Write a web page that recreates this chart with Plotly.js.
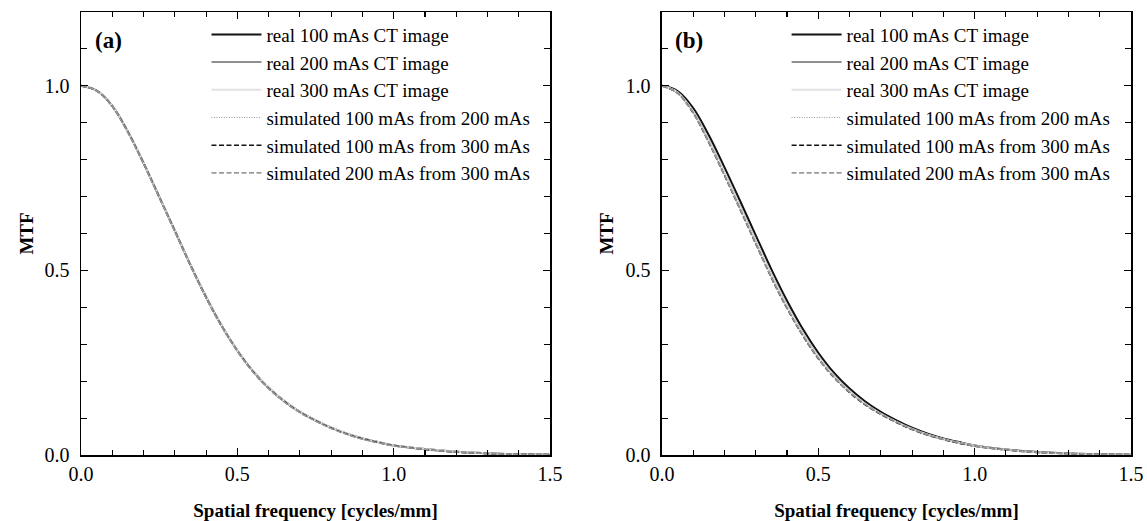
<!DOCTYPE html>
<html>
<head>
<meta charset="utf-8">
<script src="https://cdn.plot.ly/plotly-3.0.1.min.js"></script>
<style>html,body{margin:0;padding:0;background:#fff;}#chart{width:1147px;height:521px;}</style>
</head>
<body>
<div id="chart"></div>
<script>
// Spatial frequency grid [cycles/mm]
const freq = [0, 0.05, 0.1, 0.15, 0.2, 0.25, 0.3, 0.35, 0.4, 0.45, 0.5, 0.55, 0.6, 0.65, 0.7, 0.75, 0.8, 0.85, 0.9, 0.95, 1.0, 1.1, 1.2, 1.3, 1.4, 1.5];

const seriesNames = [
  "real 100 mAs CT image",
  "real 200 mAs CT image",
  "real 300 mAs CT image",
  "simulated 100 mAs from 200 mAs",
  "simulated 100 mAs from 300 mAs",
  "simulated 200 mAs from 300 mAs"
];

// Panel (a)
const a_real100 = [1.000, 0.987, 0.946, 0.876, 0.791, 0.700, 0.608, 0.515, 0.428, 0.350, 0.283, 0.227, 0.182, 0.146, 0.117, 0.094, 0.074, 0.058, 0.045, 0.035, 0.026, 0.016, 0.009, 0.005, 0.002, 0.001];
const a_real200 = [1.000, 0.987, 0.946, 0.876, 0.791, 0.700, 0.608, 0.515, 0.428, 0.350, 0.283, 0.227, 0.182, 0.146, 0.117, 0.094, 0.074, 0.058, 0.045, 0.035, 0.026, 0.016, 0.009, 0.005, 0.002, 0.001];
const a_real300 = [1.000, 0.987, 0.946, 0.876, 0.791, 0.700, 0.608, 0.515, 0.428, 0.350, 0.283, 0.227, 0.182, 0.146, 0.117, 0.094, 0.074, 0.058, 0.045, 0.035, 0.026, 0.016, 0.009, 0.005, 0.002, 0.001];
const a_sim100from200 = [1.000, 0.987, 0.945, 0.875, 0.790, 0.699, 0.607, 0.514, 0.427, 0.349, 0.282, 0.226, 0.181, 0.145, 0.116, 0.093, 0.073, 0.057, 0.044, 0.034, 0.026, 0.015, 0.008, 0.004, 0.002, 0.001];
const a_sim100from300 = [1.000, 0.987, 0.945, 0.875, 0.790, 0.699, 0.607, 0.514, 0.427, 0.349, 0.282, 0.226, 0.181, 0.145, 0.116, 0.093, 0.073, 0.057, 0.044, 0.034, 0.026, 0.015, 0.008, 0.004, 0.002, 0.001];
const a_sim200from300 = [1.000, 0.987, 0.945, 0.874, 0.789, 0.698, 0.606, 0.513, 0.426, 0.348, 0.281, 0.225, 0.180, 0.144, 0.115, 0.092, 0.072, 0.056, 0.043, 0.033, 0.025, 0.015, 0.008, 0.004, 0.002, 0.001];

// Panel (b)
const b_real100 = [1.000, 0.986, 0.940, 0.866, 0.779, 0.688, 0.595, 0.503, 0.418, 0.342, 0.277, 0.223, 0.180, 0.145, 0.117, 0.094, 0.074, 0.058, 0.045, 0.035, 0.026, 0.015, 0.008, 0.004, 0.002, 0.001];
const b_real200 = [1.000, 0.982, 0.930, 0.852, 0.763, 0.672, 0.578, 0.487, 0.403, 0.329, 0.266, 0.214, 0.173, 0.139, 0.112, 0.090, 0.071, 0.055, 0.043, 0.033, 0.025, 0.014, 0.008, 0.004, 0.002, 0.001];
const b_real300 = [1.000, 0.982, 0.929, 0.851, 0.762, 0.671, 0.577, 0.486, 0.402, 0.328, 0.265, 0.213, 0.172, 0.138, 0.111, 0.089, 0.070, 0.055, 0.043, 0.033, 0.025, 0.014, 0.007, 0.004, 0.002, 0.001];
const b_sim100from200 = [1.000, 0.980, 0.927, 0.847, 0.758, 0.666, 0.573, 0.481, 0.398, 0.325, 0.262, 0.211, 0.170, 0.137, 0.111, 0.089, 0.070, 0.055, 0.042, 0.033, 0.024, 0.014, 0.007, 0.004, 0.002, 0.001];
const b_sim100from300 = [1.000, 0.980, 0.926, 0.846, 0.757, 0.665, 0.572, 0.480, 0.397, 0.324, 0.261, 0.210, 0.169, 0.136, 0.110, 0.088, 0.069, 0.054, 0.042, 0.032, 0.024, 0.014, 0.007, 0.004, 0.002, 0.001];
const b_sim200from300 = [1.000, 0.980, 0.927, 0.847, 0.758, 0.666, 0.573, 0.481, 0.398, 0.325, 0.262, 0.211, 0.170, 0.137, 0.111, 0.089, 0.070, 0.055, 0.042, 0.033, 0.024, 0.014, 0.007, 0.004, 0.002, 0.001];

const styles = [
  {color: "#111111", width: 2, dash: "solid"},
  {color: "#8f8f8f", width: 2, dash: "solid"},
  {color: "#e2e2e2", width: 2, dash: "solid"},
  {color: "#9a9a9a", width: 1.2, dash: "1px,1.5px"},
  {color: "#111111", width: 1.6, dash: "5px,2.5px"},
  {color: "#9a9a9a", width: 1.6, dash: "5px,2.5px"}
];

const panelA = [a_real100, a_real200, a_real300, a_sim100from200, a_sim100from300, a_sim200from300];
const panelB = [b_real100, b_real200, b_real300, b_sim100from200, b_sim100from300, b_sim200from300];

const traces = [];
panelA.forEach((ys, i) => traces.push({
  x: freq, y: ys, type: "scatter", mode: "lines", name: seriesNames[i],
  line: Object.assign({shape: "spline", smoothing: 1}, styles[i]),
  xaxis: "x", yaxis: "y", legend: "legend"
}));
panelB.forEach((ys, i) => traces.push({
  x: freq, y: ys, type: "scatter", mode: "lines", name: seriesNames[i],
  line: Object.assign({shape: "spline", smoothing: 1}, styles[i]),
  xaxis: "x2", yaxis: "y2", legend: "legend2"
}));

const FONT = "Liberation Serif, Times New Roman, serif";

function xAxis(domain, anchor) {
  return {
    domain: domain, anchor: anchor, range: [0, 1.5], dtick: 0.5, tick0: 0,
    tickformat: ".1f", ticks: "inside", ticklen: 7, tickwidth: 1.3, tickcolor: "#000",
    minor: {dtick: 0.1, ticks: "inside", ticklen: 5, tickwidth: 1.1, tickcolor: "#000"},
    showline: true, linecolor: "#000", linewidth: 1.5, mirror: "ticks",
    showgrid: false, zeroline: false,
    tickfont: {family: FONT, size: 20, color: "#000"},
    title: {text: "<b>Spatial frequency [cycles/mm]</b>", font: {family: FONT, size: 19, color: "#000"}}
  };
}
function yAxis(anchor) {
  return {
    domain: [0, 1], anchor: anchor, range: [0, 1.2], dtick: 0.5, tick0: 0,
    tickformat: ".1f", ticks: "inside", ticklen: 7, tickwidth: 1.3, tickcolor: "#000",
    minor: {dtick: 0.1, ticks: "inside", ticklen: 6, tickwidth: 1.1, tickcolor: "#000"},
    showline: true, linecolor: "#000", linewidth: 1.5, mirror: "ticks",
    showgrid: false, zeroline: false, ticklabelstandoff: 6,
    tickfont: {family: FONT, size: 20, color: "#000"},
    title: {text: "<b>MTF</b>", font: {family: FONT, size: 19, color: "#000"}}
  };
}

const legendBase = {
  bgcolor: "rgba(0,0,0,0)", borderwidth: 0, yanchor: "top", xanchor: "left",
  font: {family: FONT, size: 19, color: "#000"}, itemwidth: 50, tracegroupgap: 0
};

const layout = {
  width: 1147, height: 521,
  margin: {l: 81, r: 16, t: 12, b: 66},
  paper_bgcolor: "#fff", plot_bgcolor: "#fff",
  font: {family: FONT, color: "#000"},
  xaxis: xAxis([0, 0.4467], "y"),
  yaxis: yAxis("x"),
  xaxis2: xAxis([0.5533, 1], "y2"),
  yaxis2: yAxis("x2"),
  legend: Object.assign({x: 0.1195, y: 0.992}, legendBase),
  legend2: Object.assign({x: 0.672, y: 0.992}, legendBase),
  showlegend: true,
  annotations: [
    {text: "<b>(a)</b>", xref: "paper", yref: "paper", x: 0.011, y: 0.935, xanchor: "left", yanchor: "middle", showarrow: false, font: {family: FONT, size: 23, color: "#000"}},
    {text: "<b>(b)</b>", xref: "paper", yref: "paper", x: 0.564, y: 0.935, xanchor: "left", yanchor: "middle", showarrow: false, font: {family: FONT, size: 23, color: "#000"}}
  ]
};

Plotly.newPlot("chart", traces, layout, {staticPlot: true, displayModeBar: false});
</script>
</body>
</html>
